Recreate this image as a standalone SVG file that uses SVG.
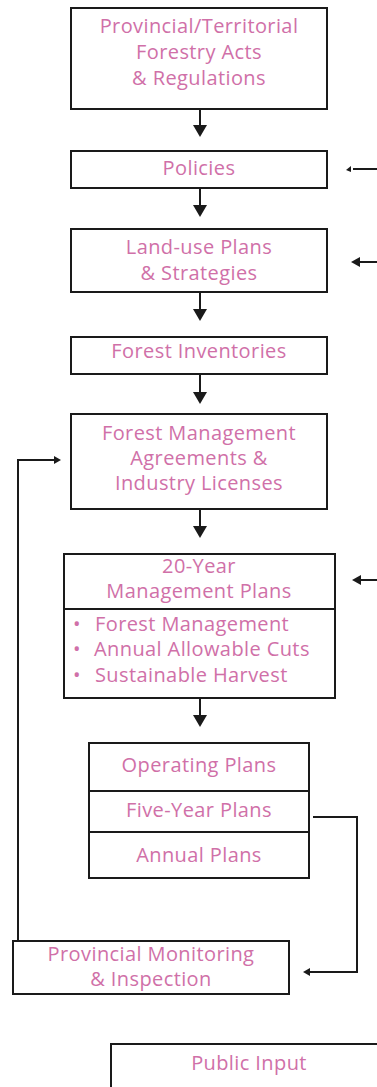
<svg xmlns="http://www.w3.org/2000/svg" width="377" height="1087" viewBox="0 0 377 1087">
  <style>
    .box { fill: #ffffff; stroke: #1a1a1a; stroke-width: 2; }
    .div { stroke: #1a1a1a; stroke-width: 2; fill: none; }
    .lbl { font-family: "Open Sans", "Liberation Sans", sans-serif; font-size: 20px; letter-spacing: 0.4px; fill: #D070A8; text-anchor: middle; }
    .lft { text-anchor: start; }
    .wire { stroke: #1a1a1a; stroke-width: 2; fill: none; }
    .head { fill: #1a1a1a; }
  </style>
  <rect width="377" height="1087" fill="#ffffff"/>

  <!-- connectors -->
  <g id="connectors">
    <!-- main downward chain -->
    <path class="wire" d="M200 109 V128"/>
    <polygon class="head" points="193,125 207,125 200,137"/>
    <path class="wire" d="M200 189 V207"/>
    <polygon class="head" points="193,205 207,205 200,217"/>
    <path class="wire" d="M200 292 V311"/>
    <polygon class="head" points="193,309 207,309 200,321"/>
    <path class="wire" d="M200 374 V394"/>
    <polygon class="head" points="193,392 207,392 200,404"/>
    <path class="wire" d="M200 509 V529"/>
    <polygon class="head" points="193,526 207,526 200,538"/>
    <path class="wire" d="M200 699 V717"/>
    <polygon class="head" points="193,715 207,715 200,727"/>

    <!-- inputs entering from the right -->
    <path class="wire" d="M377 169 H353"/>
    <polygon class="head" points="346,170 351,166 351,172"/>
    <path class="wire" d="M377 262 H359"/>
    <polygon class="head" points="351,262 360,257 360,267"/>
    <path class="wire" d="M377 580 H359"/>
    <polygon class="head" points="352,580 361,575 361,585"/>

    <!-- Five-Year Plans to Provincial Monitoring -->
    <path class="wire" d="M313 817 H357 V972 H310"/>
    <polygon class="head" points="303,972 310,968 310,976"/>

    <!-- Monitoring feedback to Forest Management Agreements -->
    <path class="wire" d="M18 940 V460 H55"/>
    <polygon class="head" points="61,460 54,456 54,464"/>
  </g>

  <g id="acts">
    <rect class="box" x="71" y="8" width="256" height="101"/>
    <text class="lbl" x="199" y="33">Provincial/Territorial</text>
    <text class="lbl" x="199" y="59">Forestry Acts</text>
    <text class="lbl" x="199" y="85">&amp; Regulations</text>
  </g>

  <g id="policies">
    <rect class="box" x="71" y="151" width="256" height="37"/>
    <text class="lbl" x="199" y="175">Policies</text>
  </g>

  <g id="land-use">
    <rect class="box" x="71" y="229" width="256" height="63"/>
    <text class="lbl" x="199" y="254">Land-use Plans</text>
    <text class="lbl" x="199" y="280">&amp; Strategies</text>
  </g>

  <g id="inventories">
    <rect class="box" x="71" y="337" width="256" height="37"/>
    <text class="lbl" x="199" y="358">Forest Inventories</text>
  </g>

  <g id="agreements">
    <rect class="box" x="71" y="414" width="256" height="95"/>
    <text class="lbl" x="199" y="440">Forest Management</text>
    <text class="lbl" x="199" y="465">Agreements &amp;</text>
    <text class="lbl" x="199" y="490">Industry Licenses</text>
  </g>

  <g id="management-plans">
    <rect class="box" x="64" y="554" width="271" height="144"/>
    <line class="div" x1="64" y1="609" x2="335" y2="609"/>
    <text class="lbl" x="199" y="573">20-Year</text>
    <text class="lbl" x="199" y="598">Management Plans</text>
    <text class="lbl lft" x="73" y="631">•</text>
    <text class="lbl lft" x="95" y="631">Forest Management</text>
    <text class="lbl lft" x="73" y="656">•</text>
    <text class="lbl lft" x="94" y="656">Annual Allowable Cuts</text>
    <text class="lbl lft" x="73" y="682">•</text>
    <text class="lbl lft" x="95" y="682">Sustainable Harvest</text>
  </g>

  <g id="operating-plans">
    <rect class="box" x="89" y="743" width="220" height="135"/>
    <line class="div" x1="89" y1="791" x2="309" y2="791"/>
    <line class="div" x1="89" y1="832" x2="309" y2="832"/>
    <text class="lbl" x="199" y="772">Operating Plans</text>
    <text class="lbl" x="199" y="817">Five-Year Plans</text>
    <text class="lbl" x="199" y="862">Annual Plans</text>
  </g>

  <g id="monitoring">
    <rect class="box" x="13" y="941" width="276" height="53"/>
    <text class="lbl" x="151" y="961">Provincial Monitoring</text>
    <text class="lbl" x="151" y="986">&amp; Inspection</text>
  </g>

  <g id="public-input">
    <rect class="box" x="111" y="1044" width="280" height="60"/>
    <text class="lbl" x="249" y="1070">Public Input</text>
  </g>
</svg>
